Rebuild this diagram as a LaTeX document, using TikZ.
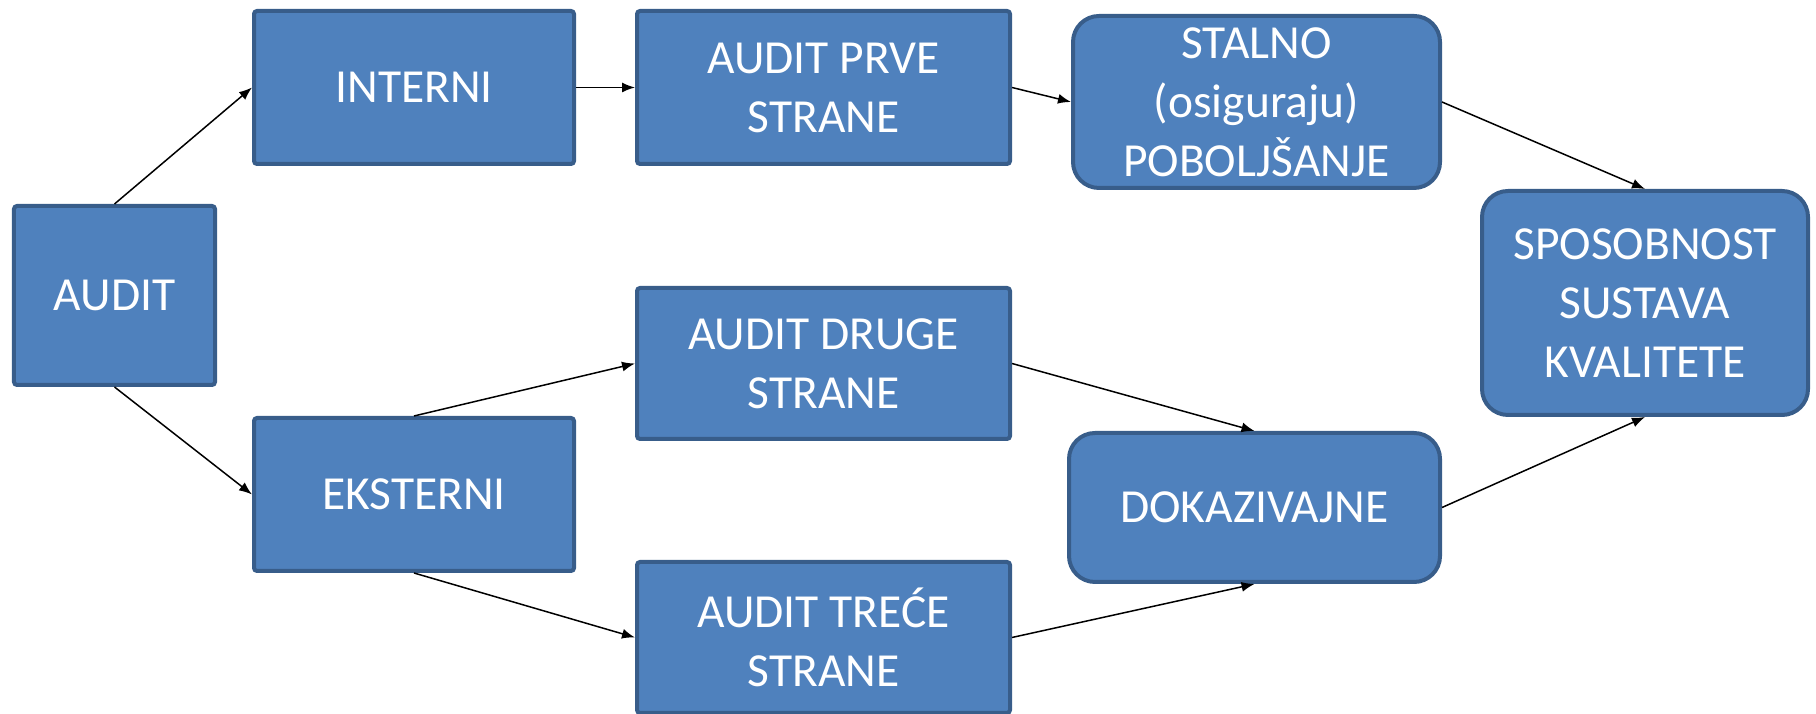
\documentclass[tikz,border=0pt]{standalone}
\usepackage{fontspec}
\setmainfont{Carlito}
\usepackage{xcolor}
\usepackage{tikz}
\usetikzlibrary{positioning,arrows.meta}
\definecolor{boxfill}{HTML}{4F81BD}
\definecolor{boxline}{HTML}{385D8A}
\tikzset{
  box/.style={rectangle,draw=boxline,fill=boxfill,line width=0.4mm,
    rounded corners=0.3mm,align=center,inner sep=0pt,text=white,text depth=-2.4pt,
    font=\fontsize{13.5pt}{16.7pt}\selectfont},
  rbox/.style={box,rounded corners=2.6mm},
  fl/.style={-{Latex[length=1.3mm,width=1mm]},draw=black,line width=0.15mm},
}
\begin{document}
\begin{tikzpicture}
  \useasboundingbox (-11.45mm,29.55mm) rectangle (170.15mm,-41.85mm);
  \node[box,minimum width=20.1mm,minimum height=17.9mm] (audit) at (0,0) {AUDIT};
  \node[box,minimum width=32mm,minimum height=15.3mm,
    above right=3.8mm and 3.5mm of audit] (int) {INTERNI};
  \node[box,minimum width=32mm,minimum height=15.3mm,
    below right=2.9mm and 3.5mm of audit] (eks) {EKSTERNI};
  \node[box,minimum width=37.3mm,minimum height=15.3mm,right=5.9mm of int] (prve) {AUDIT PRVE\\STRANE};
  \node[box,minimum width=37.3mm,minimum height=15.1mm,below=12mm of prve] (drug) {AUDIT DRUGE\\STRANE};
  \node[box,minimum width=37.3mm,minimum height=15.1mm,below=11.9mm of drug] (tre) {AUDIT TRE\'CE\\STRANE};
  \node[rbox,minimum width=36.7mm,minimum height=17.2mm,right=5.9mm of prve,yshift=-1.45mm] (stal)
    {STALNO\\(osiguraju)\\POBOLJŠANJE};
  \node[rbox,minimum width=37.1mm,minimum height=14.9mm,right=5.5mm of drug,yshift=-14.4mm] (dok) {DOKAZIVAJNE};
  \node[rbox,minimum width=32.6mm,minimum height=22.4mm,right=3.8mm of stal,yshift=-20.1mm] (spo)
    {SPOSOBNOST\\SUSTAVA\\KVALITETE};
  \draw[fl] (audit.north)--(int.west);
  \draw[fl] (audit.south)--(eks.west);
  \draw[fl] (int)--(prve);
  \draw[fl] (prve.east)--(stal.west);
  \draw[fl] (eks.north)--(drug.west);
  \draw[fl] (eks.south)--(tre.west);
  \draw[fl] (drug.east)--(dok.north);
  \draw[fl] (tre.east)--(dok.south);
  \draw[fl] (stal.east)--(spo.north);
  \draw[fl] (dok.east)--(spo.south);
\end{tikzpicture}
\end{document}
